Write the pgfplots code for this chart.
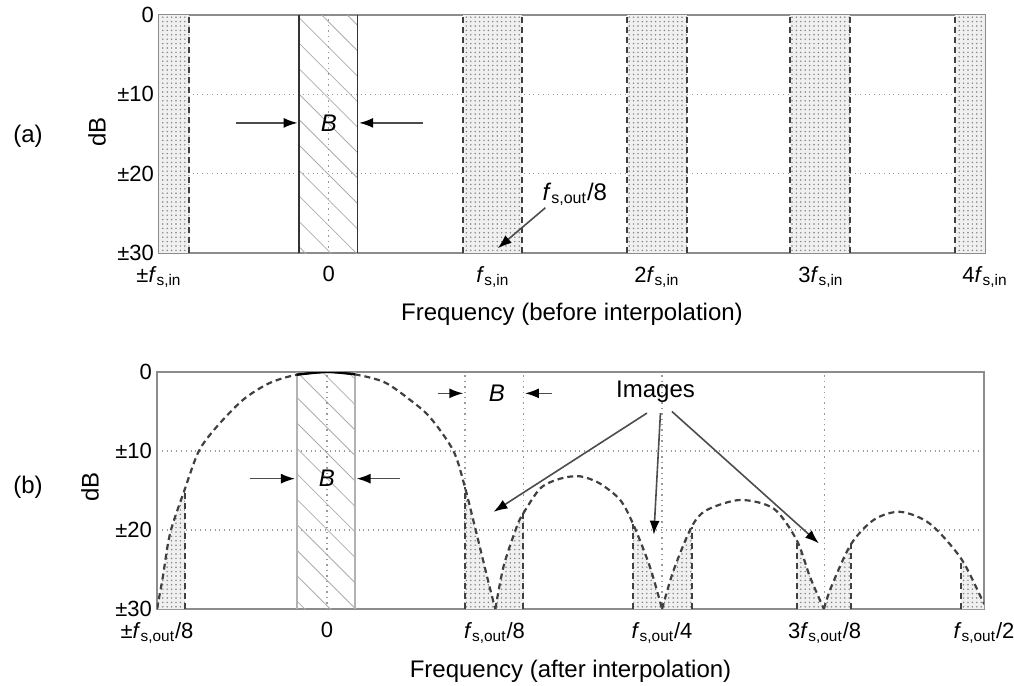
\documentclass[border=0pt]{standalone}
\usepackage{fontspec}
\setmainfont{Liberation Sans}
\usepackage{pgfplots}
\pgfplotsset{compat=1.18}
\usetikzlibrary{patterns.meta,arrows.meta}

\definecolor{frame}{gray}{0.55}
\definecolor{curve}{gray}{0.25}

\pgfplotsset{
  panel/.style={
    scale only axis,
    clip mode=individual,
    xmin=-1.035, xmax=4, ymin=-30, ymax=0,
    axis line style={frame, line width=0.9pt},
    major tick length=0pt,
    ytick={-30,-20,-10,0},
    yticklabels={±30,±20,±10,0},
    ymajorgrids,
    grid style={gray!80, dotted, line width=0.7pt},
    tick label style={font=\fontsize{11}{13}\selectfont},
    xticklabel style={yshift=-3pt},
    yticklabel style={xshift=1pt},
  },
}
\tikzset{
  dots/.style={draw=none, pattern={Dots[distance=2.2pt, radius=0.42pt]}, pattern color=gray},
  light/.style={draw=none, fill=gray!12},
  hatch/.style={draw=none, pattern={Lines[angle=-45, distance=9pt, line width=0.4pt]}, pattern color=gray!65},
  bandedge/.style={gray!50!black, densely dashed, line width=1pt},
  vdot/.style={gray!80, dotted, line width=0.7pt},
  lobe/.style={curve, dash pattern=on 3pt off 2pt, line width=1.1pt, smooth, tension=0.5},
  arr/.style={gray!60!black, line width=0.8pt, -{Latex[length=7pt, width=5pt, color=black]}},
  lbl/.style={font=\fontsize{12}{14}\selectfont},
  lblit/.style={font=\itshape\fontsize{12}{14}\selectfont},
}

% band of the input spectrum: light fill with dots
\newcommand{\topband}[2]{%
  \addplot[light] coordinates {(#1,-30) (#1,0) (#2,0) (#2,-30)};
  \addplot[dots] coordinates {(#1,-30) (#1,0) (#2,0) (#2,-30)};
}

\begin{document}
\begin{tikzpicture}

% ---------------- (a) before interpolation ----------------
\begin{axis}[panel, name=upper,
  at={(79.5pt,-126.5pt)}, anchor=south west,
  width=413pt, height=119pt,
  xtick={-1.035,0,1,2,3,4},
  xticklabels={{±\textit{f}\textsubscript{s,in}},0,{\textit{f}\textsubscript{s,in}},{2\textit{f}\textsubscript{s,in}},{3\textit{f}\textsubscript{s,in}},{4\textit{f}\textsubscript{s,in}}},
]
\topband{-1.035}{-0.85}
\topband{0.82}{1.18}
\topband{1.815}{2.185}
\topband{2.81}{3.18}
\topband{3.82}{4}
\addplot[bandedge] coordinates {(-0.85,-30) (-0.85,0)};
\addplot[bandedge] coordinates {(0.82,-30) (0.82,0)};
\addplot[bandedge] coordinates {(1.18,-30) (1.18,0)};
\addplot[bandedge] coordinates {(1.815,-30) (1.815,0)};
\addplot[bandedge] coordinates {(2.185,-30) (2.185,0)};
\addplot[bandedge] coordinates {(2.81,-30) (2.81,0)};
\addplot[bandedge] coordinates {(3.18,-30) (3.18,0)};
\addplot[bandedge] coordinates {(3.82,-30) (3.82,0)};
% signal band B
\addplot[hatch] coordinates {(-0.18,-30) (-0.18,0) (0.175,0) (0.175,-30)};
\addplot[vdot] coordinates {(0,-30) (0,0)};
\addplot[gray!40!black, line width=0.9pt] coordinates {(-0.18,-30) (-0.18,0)};
\addplot[gray!40!black, line width=0.9pt] coordinates {(0.175,-30) (0.175,0)};

\draw[arr] (axis cs:-0.566,-13.6) -- (axis cs:-0.19,-13.6);
\draw[arr] (axis cs:0.572,-13.6) -- (axis cs:0.185,-13.6);
\node[lblit] at (axis cs:0,-13.6) {B};

\node[lbl] at (axis cs:1.50,-22.6) {\textit{f}\textsubscript{s,out}/8};
\draw[arr] (axis cs:1.32,-24.3) -- (axis cs:1.03,-29.4);

\node[lbl, rotate=90] at (rel axis cs:-0.075,0.508) {dB};
\node[lbl] at (rel axis cs:-0.1586,0.49) {(a)};
\node[lbl] at (rel axis cs:0.5,-0.256) {Frequency (before interpolation)};
\end{axis}

% ---------------- (b) after interpolation ----------------
\begin{axis}[panel, name=lower,
  at={(78.5pt,-304.5pt)}, anchor=south west,
  width=413.5pt, height=118.5pt,
  xtick={-1.035,0,1.02,2.04,3.03,4},
  xticklabels={{±\textit{f}\textsubscript{s,out}/8},0,{\textit{f}\textsubscript{s,out}/8},{\textit{f}\textsubscript{s,out}/4},{3\textit{f}\textsubscript{s,out}/8},{\textit{f}\textsubscript{s,out}/2}},
]
% signal band B
\addplot[hatch] coordinates {(-0.185,-30) (-0.185,0) (0.17,0) (0.17,-30)};
\addplot[vdot] coordinates {(0,-30) (0,0)};
\addplot[vdot] coordinates {(0.84,-30) (0.84,0)};
\addplot[vdot] coordinates {(1.195,-30) (1.195,0)};
\addplot[vdot] coordinates {(2.04,-30) (2.04,0)};
\addplot[vdot] coordinates {(3.03,-30) (3.03,0)};
\addplot[gray!60, line width=0.9pt] coordinates {(-0.185,-30) (-0.185,0)};
\addplot[gray!60, line width=0.9pt] coordinates {(0.17,-30) (0.17,0)};

% images: the part of the response that lies in each band
\addplot[light] coordinates {(-1.035,-30) (-1.0,-26.0) (-0.955,-20.4) (-0.865,-14.8) (-0.865,-30)};
\addplot[dots]  coordinates {(-1.035,-30) (-1.0,-26.0) (-0.955,-20.4) (-0.865,-14.8) (-0.865,-30)};
\addplot[light] coordinates {(0.84,-30) (0.84,-14.6) (0.91,-20.4) (0.99,-27.2) (1.025,-30) (1.075,-24.6) (1.155,-19.6) (1.195,-17.9) (1.195,-30)};
\addplot[dots]  coordinates {(0.84,-30) (0.84,-14.6) (0.91,-20.4) (0.99,-27.2) (1.025,-30) (1.075,-24.6) (1.155,-19.6) (1.195,-17.9) (1.195,-30)};
\addplot[light] coordinates {(1.865,-30) (1.865,-19.3) (1.965,-24.6) (2.04,-30) (2.11,-25.1) (2.22,-19.6) (2.22,-30)};
\addplot[dots]  coordinates {(1.865,-30) (1.865,-19.3) (1.965,-24.6) (2.04,-30) (2.11,-25.1) (2.22,-19.6) (2.22,-30)};
\addplot[light] coordinates {(2.86,-30) (2.86,-21.3) (2.94,-25.9) (3.025,-30) (3.07,-27.2) (3.19,-21.8) (3.19,-30)};
\addplot[dots]  coordinates {(2.86,-30) (2.86,-21.3) (2.94,-25.9) (3.025,-30) (3.07,-27.2) (3.19,-21.8) (3.19,-30)};
\addplot[light] coordinates {(3.86,-30) (3.86,-23.6) (3.99,-28.9) (4.0,-29.3) (4.0,-30)};
\addplot[dots]  coordinates {(3.86,-30) (3.86,-23.6) (3.99,-28.9) (4.0,-29.3) (4.0,-30)};
\addplot[bandedge] coordinates {(-0.865,-30) (-0.865,-14.8)};
\addplot[bandedge] coordinates {(0.84,-30) (0.84,-14.6)};
\addplot[bandedge] coordinates {(1.195,-30) (1.195,-17.9)};
\addplot[bandedge] coordinates {(1.865,-30) (1.865,-19.3)};
\addplot[bandedge] coordinates {(2.22,-30) (2.22,-19.6)};
\addplot[bandedge] coordinates {(2.86,-30) (2.86,-21.3)};
\addplot[bandedge] coordinates {(3.19,-30) (3.19,-21.8)};
\addplot[bandedge] coordinates {(3.86,-30) (3.86,-23.6)};

% response of the interpolation filter, one lobe at a time
\addplot[lobe] coordinates {
  (-1.035,-30) (-1.0,-26.0) (-0.955,-20.4) (-0.865,-14.8) (-0.78,-10.0)
  (-0.67,-6.9) (-0.51,-3.5) (-0.35,-1.4) (-0.185,-0.35) (0,0)
  (0.17,-0.3) (0.35,-1.3) (0.51,-3.6) (0.63,-5.8) (0.77,-10.0)
  (0.84,-14.6) (0.91,-20.4) (0.99,-27.2) (1.025,-30)};
\addplot[lobe] coordinates {
  (1.025,-30) (1.075,-24.6) (1.155,-19.6) (1.195,-17.9) (1.30,-14.7)
  (1.42,-13.5) (1.54,-13.2) (1.66,-14.1) (1.785,-16.2) (1.865,-19.3)
  (1.965,-24.6) (2.04,-30)};
\addplot[lobe] coordinates {
  (2.04,-30) (2.11,-25.1) (2.22,-19.6) (2.31,-17.5) (2.515,-16.2)
  (2.72,-17.3) (2.86,-21.3) (2.94,-25.9) (3.025,-30)};
\addplot[lobe] coordinates {
  (3.025,-30) (3.07,-27.2) (3.19,-21.8) (3.33,-18.7) (3.49,-17.7)
  (3.67,-19.2) (3.86,-23.6) (3.99,-28.9) (4.0,-29.3)};
\addplot[black, line width=1.1pt, smooth] coordinates {(-0.185,-0.35) (0,0) (0.17,-0.3)};

\draw[arr] (axis cs:-0.47,-13.5) -- (axis cs:-0.195,-13.5);
\draw[arr] (axis cs:0.444,-13.5) -- (axis cs:0.18,-13.5);
\node[lblit] at (axis cs:0,-13.5) {B};

\draw[arr] (axis cs:0.676,-2.7) -- (axis cs:0.83,-2.7);
\draw[arr] (axis cs:1.37,-2.7) -- (axis cs:1.205,-2.7);
\node[lblit] at (axis cs:1.035,-2.7) {B};

\node[lbl] at (axis cs:2.0,-2.5) {Images};
\draw[arr] (axis cs:1.948,-5.2) -- (axis cs:1.014,-17.7);
\draw[arr] (axis cs:2.03,-5.2) -- (axis cs:1.99,-20.6);
\draw[arr] (axis cs:2.10,-5.0) -- (axis cs:2.995,-21.7);

\node[lbl, rotate=90] at (rel axis cs:-0.081,0.515) {dB};
\node[lbl] at (rel axis cs:-0.156,0.515) {(b)};
\node[lbl] at (rel axis cs:0.5,-0.262) {Frequency (after interpolation)};
\end{axis}

\pgfresetboundingbox
\path (0,0) rectangle (507pt,-343pt);
\end{tikzpicture}
\end{document}
